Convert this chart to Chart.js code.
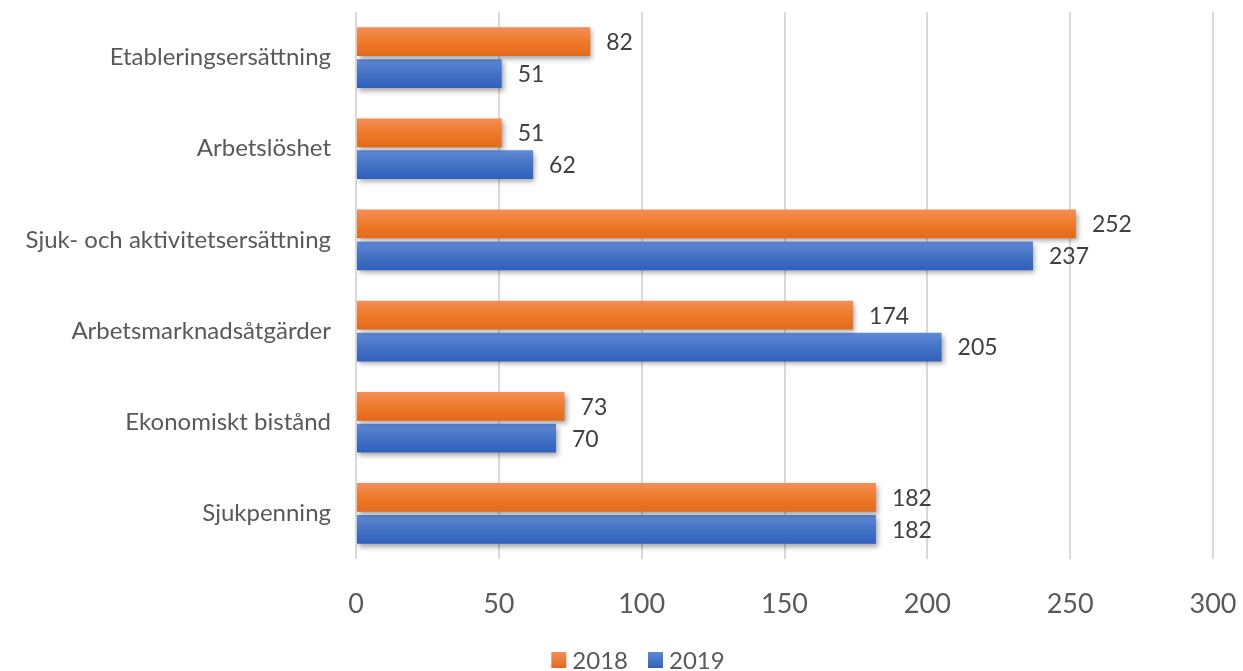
<!DOCTYPE html>
<html>
<head>
<meta charset="utf-8">
<script src="https://cdn.jsdelivr.net/npm/chart.js@4"></script>
<style>
  html, body { margin: 0; padding: 0; background: #fff; }
  #wrap { width: 1243px; height: 671px; }
</style>
</head>
<body>
<div id="wrap"><canvas id="graf"></canvas></div>
<script>
var kategorier = ['Etableringsersättning', 'Arbetslöshet', 'Sjuk- och aktivitetsersättning', 'Arbetsmarknadsåtgärder', 'Ekonomiskt bistånd', 'Sjukpenning'];
var v2018 = [82, 51, 252, 174, 73, 182];
var v2019 = [51, 62, 237, 205, 70, 182];
var xTicks = [0, 50, 100, 150, 200, 250, 300];

var FONT = 'Lato, "Open Sans", sans-serif';
var farg2018 = ['#f28f58', '#ef7a2a', '#e4691b'];
var farg2019 = ['#5f8ad6', '#4472c4', '#2f60bd'];

// gradient + skugga på staplarna
var stapelStil = {
    id: 'stapelStil',
    beforeDatasetDraw: function (chart, args) {
        var ctx = chart.ctx;
        var meta = args.meta;
        var farger = meta.index === 0 ? farg2018 : farg2019;
        meta.data.forEach(function (el) {
            var top = el.y - el.height / 2;
            var g = ctx.createLinearGradient(0, top, 0, top + el.height);
            g.addColorStop(0, farger[0]);
            g.addColorStop(0.5, farger[1]);
            g.addColorStop(1, farger[2]);
            el.options.backgroundColor = g;
        });
        ctx.save();
        ctx.shadowColor = 'rgba(0,0,0,0.35)';
        ctx.shadowBlur = 5;
        ctx.shadowOffsetX = 2;
        ctx.shadowOffsetY = 3;
    },
    afterDatasetDraw: function (chart) {
        chart.ctx.restore();
    }
};

// värden bredvid staplarna
var etiketter = {
    id: 'etiketter',
    afterDatasetsDraw: function (chart) {
        var ctx = chart.ctx;
        ctx.save();
        ctx.font = '23px ' + FONT;
        ctx.fillStyle = '#404040';
        ctx.textAlign = 'left';
        ctx.textBaseline = 'middle';
        chart.data.datasets.forEach(function (ds, i) {
            var meta = chart.getDatasetMeta(i);
            meta.data.forEach(function (el, j) {
                ctx.fillText(ds.data[j], el.x + 16, el.y + 1);
            });
        });
        ctx.restore();
    }
};

// egen legend under diagrammet
var legend = {
    id: 'egenLegend',
    afterDraw: function (chart) {
        var ctx = chart.ctx;
        ctx.save();
        ctx.font = '24px ' + FONT;
        ctx.textBaseline = 'middle';
        ctx.textAlign = 'left';
        var items = chart.data.datasets.map(function (ds, i) {
            return { text: ds.label, f: i === 0 ? farg2018 : farg2019, w: ctx.measureText(ds.label).width };
        });
        var total = 0;
        items.forEach(function (it) { total += 15 + 6 + it.w + 20; });
        total -= 20;
        var x = 638 - total / 2;
        var y = 660;
        items.forEach(function (it) {
            var g = ctx.createLinearGradient(0, y - 8, 0, y + 8);
            g.addColorStop(0, it.f[0]);
            g.addColorStop(1, it.f[2]);
            ctx.fillStyle = g;
            ctx.fillRect(x, y - 8, 15, 16);
            ctx.fillStyle = '#595959';
            ctx.fillText(it.text, x + 21, y + 1);
            x += 15 + 6 + it.w + 20;
        });
        ctx.restore();
    }
};

var fyll = function (f) { return function () { return f; }; };

new Chart(document.getElementById('graf'), {
    type: 'bar',
    data: {
        labels: kategorier,
        datasets: [
            { label: '2018', data: v2018, backgroundColor: fyll('#ed7d31'), barPercentage: 0.9, categoryPercentage: 0.7 },
            { label: '2019', data: v2019, backgroundColor: fyll('#4472c4'), barPercentage: 0.9, categoryPercentage: 0.7 }
        ]
    },
    options: {
        indexAxis: 'y',
        responsive: true,
        maintainAspectRatio: false,
        animation: false,
        layout: { padding: { top: 12, right: 30, left: 0, bottom: 30 } },
        scales: {
            x: {
                min: 0,
                max: 300,
                afterBuildTicks: function (axis) {
                    axis.ticks = xTicks.map(function (v) { return { value: v }; });
                },
                afterFit: function (axis) {
                    axis.height = 82;
                    axis.paddingLeft = 0;
                    axis.paddingRight = 0;
                },
                grid: { color: '#d9d9d9', lineWidth: 2, drawTicks: false },
                border: { display: false },
                ticks: { color: '#595959', font: { family: FONT, size: 27 }, padding: 29 }
            },
            y: {
                afterFit: function (axis) {
                    axis.width = 356;
                    axis.paddingTop = 0;
                    axis.paddingBottom = 0;
                },
                grid: { display: false },
                border: { display: false },
                ticks: { color: '#595959', font: { family: FONT, size: 24 }, padding: 17 }
            }
        },
        plugins: {
            legend: { display: false },
            tooltip: { enabled: false }
        }
    },
    plugins: [stapelStil, etiketter, legend]
});
</script>
</body>
</html>
